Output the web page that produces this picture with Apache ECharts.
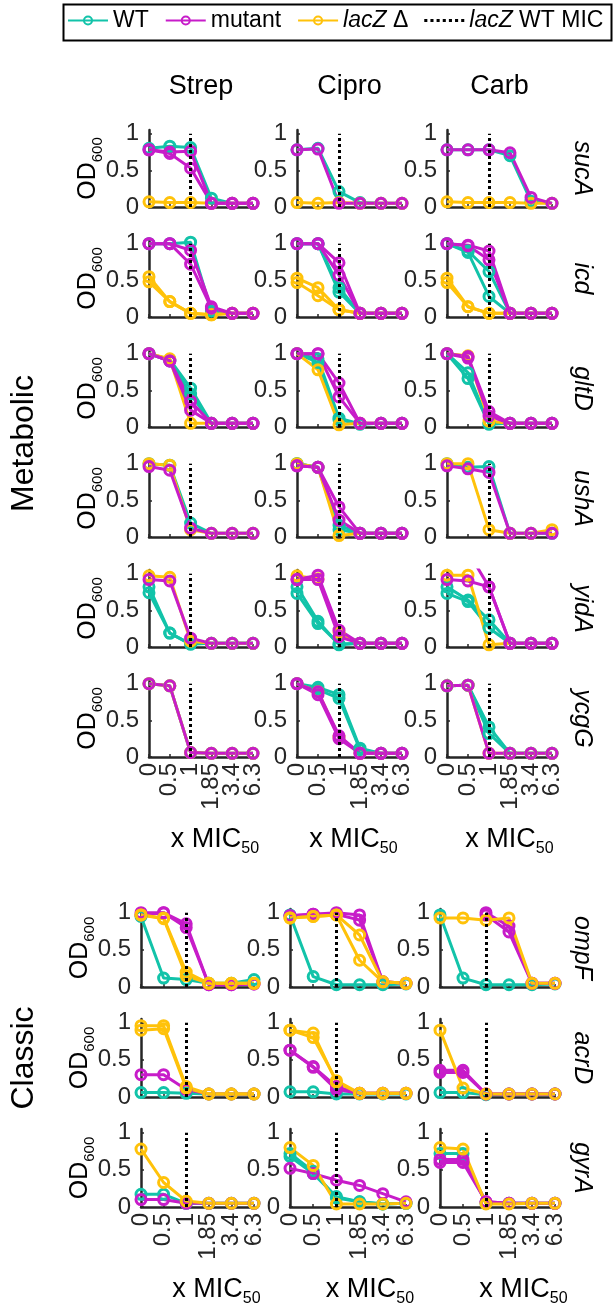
<!DOCTYPE html>
<html>
<head>
<meta charset="utf-8">
<script src="https://cdn.jsdelivr.net/npm/echarts@6.0.0/dist/echarts.min.js"></script>
<style>
  html, body { margin: 0; padding: 0; background: #fff; }
  #chart { width: 616px; height: 1311px; }
</style>
</head>
<body>
<div id="chart"></div>
<script>
// x MIC50 doses (categories) and y ticks
const doses = ['0', '0.5', '1', '1.85', '3.4', '6.3'];
const micDose = '1';
const drugs = ['Strep', 'Cipro', 'Carb'];
const yTicks = [0, 0.5, 1];
const genotypes = ['WT', 'mutant', 'lacZ Δ'];
const genotypeColors = ['#12C3A9', '#C71CC9', '#FFC20A'];
const metabolicGenes = ['sucA', 'icd', 'gltD', 'ushA', 'yidA', 'ycgG'];
const classicGenes = ['ompF', 'acrD', 'gyrA'];

// OD600 per gene & genotype: [Strep, Cipro, Carb], each a list of replicate curves
const sucA_WT = [
  [[0.80, 0.83, 0.81, 0.12, 0.05, 0.05]],
  [[0.78, 0.80, 0.21, 0.06, 0.05, 0.05]],
  [[0.78, 0.78, 0.78, 0.70, 0.08, 0.05]]
];
const sucA_mut = [
  [[0.78, 0.75, 0.76, 0.05, 0.05, 0.05], [0.78, 0.73, 0.53, 0.05, 0.05, 0.05]],
  [[0.78, 0.79, 0.05, 0.05, 0.05, 0.05]],
  [[0.78, 0.78, 0.78, 0.74, 0.13, 0.05]]
];
const sucA_lacZ = [
  [[0.07, 0.06, 0.06, 0.05, 0.05, 0.05]],
  [[0.06, 0.05, 0.06, 0.05, 0.05, 0.05]],
  [[0.07, 0.06, 0.06, 0.06, 0.05, 0.05]]
];

const icd_WT = [
  [[1.00, 1.00, 1.02, 0.08, 0.05, 0.05]],
  [[1.00, 1.00, 0.40, 0.05, 0.05, 0.05], [1.00, 1.00, 0.34, 0.05, 0.05, 0.05]],
  [[1.00, 0.90, 0.62, 0.05, 0.05, 0.05], [1.00, 0.88, 0.28, 0.05, 0.05, 0.05]]
];
const icd_mut = [
  [[1.00, 1.00, 0.91, 0.14, 0.05, 0.05], [1.00, 1.00, 0.72, 0.12, 0.05, 0.05]],
  [[1.00, 1.00, 0.74, 0.05, 0.05, 0.05], [1.00, 1.00, 0.57, 0.05, 0.05, 0.05]],
  [[1.00, 0.98, 0.90, 0.05, 0.05, 0.05], [1.00, 0.97, 0.78, 0.05, 0.05, 0.05]]
];
const icd_lacZ = [
  [[0.55, 0.21, 0.05, 0.03, 0.05, 0.05], [0.48, 0.21, 0.05, 0.03, 0.05, 0.05]],
  [[0.53, 0.40, 0.10, 0.05, 0.05, 0.05], [0.47, 0.29, 0.10, 0.05, 0.05, 0.05]],
  [[0.53, 0.14, 0.05, 0.05, 0.05, 0.05], [0.47, 0.14, 0.05, 0.05, 0.05, 0.05]]
];

const gltD_WT = [
  [[1.00, 0.92, 0.53, 0.05, 0.05, 0.05], [1.00, 0.90, 0.45, 0.05, 0.05, 0.05]],
  [[1.00, 0.93, 0.12, 0.04, 0.05, 0.05], [1.00, 0.88, 0.10, 0.04, 0.05, 0.05]],
  [[1.00, 0.74, 0.04, 0.05, 0.05, 0.05], [1.00, 0.66, 0.04, 0.05, 0.05, 0.05]]
];
const gltD_mut = [
  [[1.00, 0.90, 0.35, 0.05, 0.05, 0.05], [1.00, 0.90, 0.23, 0.05, 0.05, 0.05]],
  [[1.00, 1.00, 0.60, 0.05, 0.05, 0.05], [1.00, 1.00, 0.41, 0.05, 0.05, 0.05]],
  [[1.00, 0.96, 0.21, 0.05, 0.05, 0.05], [1.00, 0.94, 0.15, 0.05, 0.05, 0.05]]
];
const gltD_lacZ = [
  [[1.00, 0.93, 0.05, 0.05, 0.05, 0.05]],
  [[1.00, 0.78, 0.03, 0.05, 0.05, 0.05]],
  [[1.00, 0.97, 0.08, 0.05, 0.05, 0.05]]
];

const ushA_WT = [
  [[1.00, 0.98, 0.19, 0.05, 0.05, 0.05]],
  [[1.00, 0.95, 0.16, 0.05, 0.05, 0.05], [1.00, 0.95, 0.10, 0.05, 0.05, 0.05]],
  [[1.00, 0.95, 0.96, 0.05, 0.05, 0.05]]
];
const ushA_mut = [
  [[0.96, 0.91, 0.12, 0.05, 0.05, 0.05]],
  [[0.97, 0.95, 0.41, 0.05, 0.05, 0.05], [0.97, 0.95, 0.23, 0.05, 0.05, 0.05]],
  [[0.97, 0.93, 0.88, 0.05, 0.05, 0.05]]
];
const ushA_lacZ = [
  [[1.00, 0.98, 0.10, 0.05, 0.05, 0.05]],
  [[1.00, 0.95, 0.02, 0.05, 0.05, 0.05]],
  [[1.00, 1.00, 0.10, 0.05, 0.05, 0.10]]
];

const yidA_WT = [
  [[0.82, 0.19, 0.04, 0.05, 0.05, 0.05], [0.74, 0.19, 0.04, 0.05, 0.05, 0.05]],
  [[0.82, 0.35, 0.03, 0.05, 0.05, 0.05], [0.73, 0.32, 0.04, 0.05, 0.05, 0.05]],
  [[0.82, 0.64, 0.37, 0.05, 0.05, 0.05], [0.73, 0.62, 0.26, 0.05, 0.05, 0.05]]
];
const yidA_mut = [
  [[0.92, 0.90, 0.12, 0.05, 0.05, 0.05]],
  [[0.92, 0.98, 0.23, 0.05, 0.05, 0.05], [0.92, 0.92, 0.14, 0.05, 0.05, 0.05]],
  [[0.92, 0.90, 0.82, 0.05, 0.05, 0.05], [null, 1.30, 0.82, 0.05, 0.05, 0.05]]
];
const yidA_lacZ = [
  [[0.97, 0.95, 0.08, 0.05, 0.05, 0.05]],
  [[0.97, 0.93, 0.20, 0.05, 0.05, 0.05]],
  [[0.98, 0.98, 0.03, 0.05, 0.05, 0.05]]
];

const ycgG_WT = [
  [[1.00, 0.97, 0.06, 0.05, 0.05, 0.05]],
  [[1.00, 0.95, 0.85, 0.12, 0.05, 0.05], [1.00, 0.92, 0.80, 0.10, 0.05, 0.05]],
  [[0.97, 0.98, 0.41, 0.05, 0.05, 0.05], [0.97, 0.98, 0.32, 0.05, 0.05, 0.05]]
];
const ycgG_mut = [
  [[1.00, 0.97, 0.06, 0.05, 0.05, 0.05]],
  [[1.00, 0.89, 0.29, 0.05, 0.05, 0.05], [1.00, 0.85, 0.25, 0.05, 0.05, 0.05]],
  [[0.97, 0.98, 0.05, 0.05, 0.05, 0.05]]
];
const ycgG_lacZ = [
  [[1.00, 0.97, 0.06, 0.05, 0.05, 0.05]],
  [[1.00, 0.89, 0.27, 0.05, 0.05, 0.05]],
  [[0.97, 0.98, 0.05, 0.05, 0.05, 0.05]]
];

const ompF_WT = [
  [[0.95, 0.12, 0.10, 0.05, 0.05, 0.10]],
  [[0.97, 0.14, 0.03, 0.03, 0.03, 0.04]],
  [[0.97, 0.12, 0.03, 0.03, 0.03, 0.04]]
];
const ompF_mut = [
  [[1.00, 1.00, 0.85, 0.03, 0.03, 0.04], [0.97, 1.00, 0.80, 0.03, 0.03, 0.04]],
  [[0.96, 0.98, 1.00, 0.97, 0.07, 0.05], [0.96, 0.98, 0.98, 0.90, 0.07, 0.05]],
  [[null, null, 1.00, 0.82, 0.05, 0.05], [null, null, 0.97, 0.74, 0.05, 0.05]]
];
const ompF_lacZ = [
  [[0.97, 0.93, 0.20, 0.05, 0.05, 0.05], [0.97, 0.92, 0.15, 0.05, 0.05, 0.05]],
  [[0.93, 0.95, 0.97, 0.70, 0.07, 0.05], [0.93, 0.95, 0.97, 0.36, 0.07, 0.05]],
  [[0.93, 0.93, 0.90, 0.93, 0.05, 0.05]]
];

const acrD_WT = [
  [[0.06, 0.06, 0.05, 0.04, 0.04, 0.04]],
  [[0.07, 0.07, 0.04, 0.04, 0.04, 0.04]],
  [[0.06, 0.06, 0.03, 0.04, 0.04, 0.04]]
];
const acrD_mut = [
  [[0.30, 0.30, 0.10, 0.04, 0.04, 0.04]],
  [[0.63, 0.41, 0.14, 0.05, 0.05, 0.05], [0.63, 0.40, 0.10, 0.05, 0.05, 0.05]],
  [[0.36, 0.36, 0.04, 0.04, 0.04, 0.04], [0.33, 0.33, 0.04, 0.04, 0.04, 0.04]]
];
const acrD_lacZ = [
  [[0.96, 0.96, 0.14, 0.04, 0.04, 0.04], [0.90, 0.92, 0.12, 0.04, 0.04, 0.04]],
  [[0.90, 0.86, 0.20, 0.05, 0.05, 0.05], [0.90, 0.80, 0.22, 0.05, 0.05, 0.05]],
  [[0.90, 0.12, 0.04, 0.04, 0.04, 0.04]]
];

const gyrA_WT = [
  [[0.17, 0.17, 0.05, 0.05, 0.05, 0.05]],
  [[0.72, 0.48, 0.12, 0.07, 0.04, 0.05], [0.68, 0.45, 0.14, 0.07, 0.04, 0.05]],
  [[0.72, 0.72, 0.05, 0.05, 0.05, 0.05]]
];
const gyrA_mut = [
  [[0.10, 0.10, 0.05, 0.05, 0.05, 0.05]],
  [[0.52, 0.45, 0.36, 0.29, 0.18, 0.07]],
  [[0.64, 0.64, 0.07, 0.05, 0.05, 0.05], [0.60, 0.60, 0.07, 0.05, 0.05, 0.05]]
];
const gyrA_lacZ = [
  [[0.78, 0.33, 0.08, 0.05, 0.05, 0.05]],
  [[0.80, 0.56, 0.04, 0.04, 0.04, 0.05]],
  [[0.80, 0.78, 0.04, 0.04, 0.05, 0.05]]
];

const od = {
  sucA: [sucA_WT, sucA_mut, sucA_lacZ],
  icd: [icd_WT, icd_mut, icd_lacZ],
  gltD: [gltD_WT, gltD_mut, gltD_lacZ],
  ushA: [ushA_WT, ushA_mut, ushA_lacZ],
  yidA: [yidA_WT, yidA_mut, yidA_lacZ],
  ycgG: [ycgG_WT, ycgG_mut, ycgG_lacZ],
  ompF: [ompF_WT, ompF_mut, ompF_lacZ],
  acrD: [acrD_WT, acrD_mut, acrD_lacZ],
  gyrA: [gyrA_WT, gyrA_mut, gyrA_lacZ]
};

const FONT = '"Liberation Sans", Arial, Helvetica, sans-serif';
const AXIS = '#262626';

// panel layout per block (px); xNameShift nudges the "x MIC50" label right like the original
const blocks = [
  { label: 'Metabolic', genes: metabolicGenes, top: 130, pitch: 110, height: 77,
    lefts: [149, 297, 447], widths: [104, 105, 105], xNameShift: [14, 4, 10], drawOrder: [0, 2, 1] },
  { label: 'Classic', genes: classicGenes, top: 909, pitch: 110, height: 78,
    lefts: [141, 290, 440], widths: [113, 116, 115], xNameShift: [19, 22, 26], drawOrder: [0, 1, 2] }
];

function subRich(size) {
  return {
    a: { fontSize: size, lineHeight: size + 4, verticalAlign: 'top', fontFamily: FONT, color: '#000' },
    s: { fontSize: Math.round(size * 0.6), lineHeight: Math.round(size * 0.6), verticalAlign: 'bottom', fontFamily: FONT, color: '#000' }
  };
}

function curve(name, color, values, gi) {
  return {
    name, type: 'line', xAxisIndex: gi, yAxisIndex: gi, data: values,
    symbol: 'circle', symbolSize: 10,
    itemStyle: { color: 'rgba(255,255,255,0)', borderColor: color, borderWidth: 3 },
    lineStyle: { color, width: 3 },
    silent: true, animation: false, emphasis: { disabled: true }
  };
}

function micLine(gi) {
  return {
    name: 'lacZ WT MIC', type: 'line', xAxisIndex: gi, yAxisIndex: gi, data: [],
    symbol: 'none', itemStyle: { color: '#000' },
    lineStyle: { color: '#000', type: 'dotted', width: 3 },
    silent: true, animation: false,
    markLine: {
      silent: true, animation: false, symbol: ['none', 'none'],
      label: { show: false },
      lineStyle: { color: '#000', type: 'dotted', width: 3 },
      emphasis: { disabled: true },
      data: [[{ coord: [micDose, 0] }, { coord: [micDose, yTicks[yTicks.length - 1]] }]]
    }
  };
}

const grid = [], xAxis = [], yAxis = [], series = [], graphic = [];

blocks.forEach((b, bi) => {
  const nRows = b.genes.length;
  b.genes.forEach((gene, r) => {
    const top = b.top + r * b.pitch;
    const lastRow = r === nRows - 1;
    drugs.forEach((drug, c) => {
      const gi = grid.length;
      grid.push({ left: b.lefts[c], top, width: b.widths[c], height: b.height, outerBoundsMode: 'none' });
      xAxis.push({
        type: 'category', gridIndex: gi, data: doses, boundaryGap: false,
        axisLine: { lineStyle: { color: AXIS, width: 2.5 } },
        axisTick: { show: true, inside: true, length: 3, interval: 0, lineStyle: { color: AXIS, width: 1.5 } },
        axisLabel: { show: lastRow, rotate: 90, interval: 0, margin: 6, fontSize: 24, fontFamily: FONT, color: AXIS, hideOverlap: false },
        splitLine: { show: false },
        name: lastRow ? '{a|x MIC}{s|50}' : '',
        nameLocation: 'middle', nameGap: 69, nameMoveOverlap: false,
        nameTextStyle: { rich: subRich(27), padding: [0, 0, 0, 2 * b.xNameShift[c]] }
      });
      yAxis.push({
        type: 'value', gridIndex: gi, min: 0, max: 1.05, interval: 0.5,
        axisLine: { show: true, lineStyle: { color: AXIS, width: 2.5 } },
        axisTick: { show: true, inside: true, length: 3, lineStyle: { color: AXIS, width: 1.5 } },
        axisLabel: {
          fontSize: 24, fontFamily: FONT, color: AXIS, margin: 10, showMaxLabel: false,
          formatter: v => (yTicks.indexOf(v) >= 0 ? String(v) : '')
        },
        splitLine: { show: false },
        name: c === 0 ? '{a|OD}{s|600}' : '',
        nameLocation: 'middle', nameRotate: 90, nameGap: 44, nameMoveOverlap: false,
        nameTextStyle: { rich: subRich(25) }
      });
      b.drawOrder.forEach(k => {
        od[gene][k][c].forEach(rep => series.push(curve(genotypes[k], genotypeColors[k], rep, gi)));
      });
      series.push(micLine(gi));
      if (bi === 0 && r === 0) {
        graphic.push({
          type: 'text', x: b.lefts[c] + b.widths[c] / 2, y: 87, silent: true,
          style: { text: drug, fontSize: 27, fontFamily: FONT, fill: '#000', align: 'center', verticalAlign: 'middle' }
        });
      }
    });
    graphic.push({
      type: 'text', x: 582, y: top + b.height / 2, rotation: -Math.PI / 2, silent: true,
      style: { text: gene, fontSize: 25, fontStyle: 'italic', fontFamily: FONT, fill: '#000', align: 'center', verticalAlign: 'middle' }
    });
  });
  graphic.push({
    type: 'text', x: 24, y: (b.top + b.top + (nRows - 1) * b.pitch + b.height) / 2,
    rotation: Math.PI / 2, silent: true,
    style: { text: b.label, fontSize: 32, fontFamily: FONT, fill: '#000', align: 'center', verticalAlign: 'middle' }
  });
});

// legend frame
graphic.push({
  type: 'rect', silent: true, z: -1,
  shape: { x: 63.5, y: 4.5, width: 548, height: 36 },
  style: { fill: '#fff', stroke: '#000', lineWidth: 2 }
});

const dottedIcon = 'path://M0 0h3v3h-3zM6 0h3v3h-3zM12 0h3v3h-3zM18 0h3v3h-3zM24 0h3v3h-3zM30 0h3v3h-3zM36 0h3v3h-3z';

const chart = echarts.init(document.getElementById('chart'), null, { renderer: 'canvas' });
chart.setOption({
  animation: false,
  backgroundColor: '#fff',
  grid, xAxis, yAxis, series, graphic,
  legend: {
    left: 67, top: 9, padding: 0, itemWidth: 40, itemHeight: 10, itemGap: 16,
    selectedMode: false,
    itemStyle: { borderWidth: 2 },
    lineStyle: { width: 2 },
    data: ['WT', 'mutant', 'lacZ Δ', { name: 'lacZ WT MIC', icon: dottedIcon }],
    formatter: name => (name.indexOf('lacZ') === 0 ? '{i|lacZ}' + name.slice(4) : name),
    textStyle: {
      fontSize: 23, fontFamily: FONT, color: '#000',
      rich: { i: { fontSize: 23, fontFamily: FONT, fontStyle: 'italic', color: '#000' } }
    }
  }
});
</script>
</body>
</html>
